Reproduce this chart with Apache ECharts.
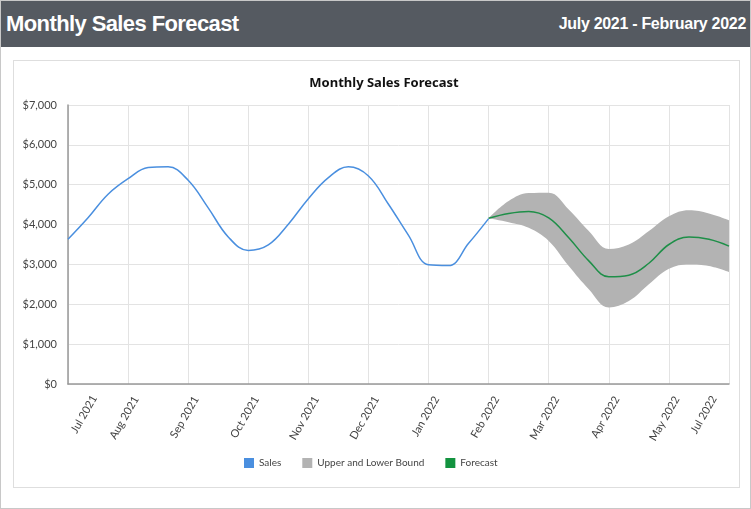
<!DOCTYPE html>
<html lang="en">
<head>
    <meta charset="UTF-8">
    <title>Monthly Sales Forecast</title>
    <script src="https://cdn.jsdelivr.net/npm/echarts@6/dist/echarts.min.js"></script>
    <style>
        html, body { margin: 0; padding: 0; background: #fff; }
        .page {
            position: relative;
            width: 749px;
            height: 507px;
            border: 1px solid #c8c8c8;
            font-family: "Liberation Sans", Arial, sans-serif;
        }
        .header {
            position: absolute;
            left: 0; top: 0;
            width: 749px; height: 46px;
            background: #555a61;
            color: #fff;
            font-weight: bold;
        }
        .header .title {
            position: absolute; left: 5px; top: 10px;
            font-size: 22px; letter-spacing: -0.6px;
        }
        .header .range {
            position: absolute; right: 4px; top: 14px;
            font-size: 16px; letter-spacing: -0.3px;
        }
        .panel {
            position: absolute;
            left: 12px; top: 59px;
            width: 725px; height: 426px;
            border: 1px solid #dedede;
        }
        #chart { width: 725px; height: 426px; }
    </style>
</head>
<body>
    <div class="page">
        <div class="header">
            <span class="title">Monthly Sales Forecast</span>
            <span class="range">July 2021 - February 2022</span>
        </div>
        <div class="panel">
            <div id="chart"></div>
        </div>
    </div>

    <script>
        // tick labels, one per month slot on the axis
        const monthLabels = ['Jul 2021', 'Aug 2021', 'Sep 2021', 'Oct 2021', 'Nov 2021', 'Dec 2021',
            'Jan 2022', 'Feb 2022', 'Mar 2022', 'Apr 2022', 'May 2022', 'Jul 2022'];
        const stepsPerMonth = 3; // values read every third of a month

        // sales, Jul 2021 .. Feb 2022
        const sales = [3630, 4170, 4760, 5150, 5430, 5450, 5110, 4420, 3690, 3350, 3490,
            4010, 4650, 5180, 5450, 5220, 4510, 3730, 2990, 2970, 3530, 4150];

        // forecast part, Feb 2022 .. Jul 2022
        const forecast = [4160, 4280, 4330, 4170, 3670, 3090, 2690, 2730, 3030, 3500, 3690, 3630, 3460];
        const upper = [4160, 4590, 4790, 4800, 4380, 3840, 3390, 3500, 3840, 4210, 4360, 4280, 4110];
        const lower = [4160, 4060, 3920, 3590, 2960, 2380, 1920, 2080, 2500, 2890, 3000, 2960, 2810];

        const yTicks = [0, 1000, 2000, 3000, 4000, 5000, 6000, 7000];

        // axis slots: month label, then the in-between readings
        const slots = [];
        monthLabels.forEach((m, i) => {
            slots.push(m);
            if (i < monthLabels.length - 1) {
                for (let s = 1; s < stepsPerMonth; s++) slots.push(m + ' +' + s);
            }
        });
        const forecastStart = monthLabels.indexOf('Feb 2022') * stepsPerMonth;
        const lastSlot = slots.length - 1;

        function place(values, start) {
            const out = slots.map(() => null);
            values.forEach((v, i) => { out[start + i] = v; });
            return out;
        }

        const chart = echarts.init(document.getElementById('chart'));
        const labelFont = 'Lato, "Noto Sans", sans-serif';

        chart.setOption({
            animation: false,
            title: {
                text: 'Monthly Sales Forecast',
                left: 365,
                top: 11,
                textAlign: 'center',
                textStyle: { fontSize: 13, fontWeight: 'bold', color: '#111', fontFamily: '"Noto Sans", sans-serif' }
            },
            legend: {
                data: ['Sales', 'Upper and Lower Bound', 'Forecast'],
                left: 225,
                top: 392,
                icon: 'rect',
                itemWidth: 10,
                itemHeight: 10,
                itemGap: 21,
                textStyle: { fontSize: 10, color: '#444', fontFamily: labelFont }
            },
            grid: { left: 54, top: 44, width: 661, height: 279 },
            xAxis: {
                type: 'category',
                data: slots,
                boundaryGap: false,
                axisLine: { show: true, lineStyle: { color: '#999', width: 1.5 } },
                axisTick: { show: false },
                splitLine: { show: true, interval: stepsPerMonth - 1, lineStyle: { color: '#e3e3e3' } },
                axisLabel: {
                    interval: stepsPerMonth - 1,
                    rotate: 60,
                    margin: -3,
                    formatter: (value, idx) => {
                        if (idx === 0) return '{first|' + value + '}';
                        if (idx === lastSlot) return '{last|' + value + '}';
                        return '{n|' + value + '}';
                    },
                    rich: {
                        n: { fontSize: 11, color: '#444', fontFamily: labelFont, padding: [30, 10, 0, 0] },
                        first: { fontSize: 11, color: '#444', fontFamily: labelFont, padding: [61, 0, 0, 0] },
                        last: { fontSize: 11, color: '#444', fontFamily: labelFont, padding: [0, 21, 10, 0] }
                    }
                }
            },
            yAxis: {
                type: 'value',
                min: yTicks[0],
                max: yTicks[yTicks.length - 1],
                interval: 1000,
                axisLine: { show: true, lineStyle: { color: '#999', width: 1.5 } },
                axisTick: { show: false },
                splitLine: { lineStyle: { color: '#e3e3e3' } },
                axisLabel: {
                    fontSize: 11,
                    color: '#444',
                    fontFamily: labelFont,
                    margin: 11,
                    formatter: v => '$' + v.toLocaleString('en-US')
                }
            },
            series: [
                {
                    name: 'Sales',
                    type: 'line',
                    smooth: 0.4,
                    symbol: 'none',
                    color: '#4a8fdf',
                    lineStyle: { width: 1.5, color: '#4a8fdf' },
                    data: place(sales, 0),
                    z: 5
                },
                {
                    name: 'lower',
                    type: 'line',
                    stack: 'band',
                    smooth: 0.4,
                    symbol: 'none',
                    lineStyle: { opacity: 0 },
                    data: place(lower, forecastStart)
                },
                {
                    name: 'Upper and Lower Bound',
                    type: 'line',
                    stack: 'band',
                    smooth: 0.4,
                    symbol: 'none',
                    color: '#b3b3b3',
                    lineStyle: { opacity: 0 },
                    areaStyle: { color: '#b3b3b3', opacity: 1 },
                    data: place(upper.map((u, i) => u - lower[i]), forecastStart)
                },
                {
                    name: 'Forecast',
                    type: 'line',
                    smooth: 0.4,
                    symbol: 'none',
                    color: '#13933f',
                    lineStyle: { width: 1.5, color: '#1e8f48' },
                    data: place(forecast, forecastStart),
                    z: 5
                }
            ]
        });
    </script>
</body>
</html>
